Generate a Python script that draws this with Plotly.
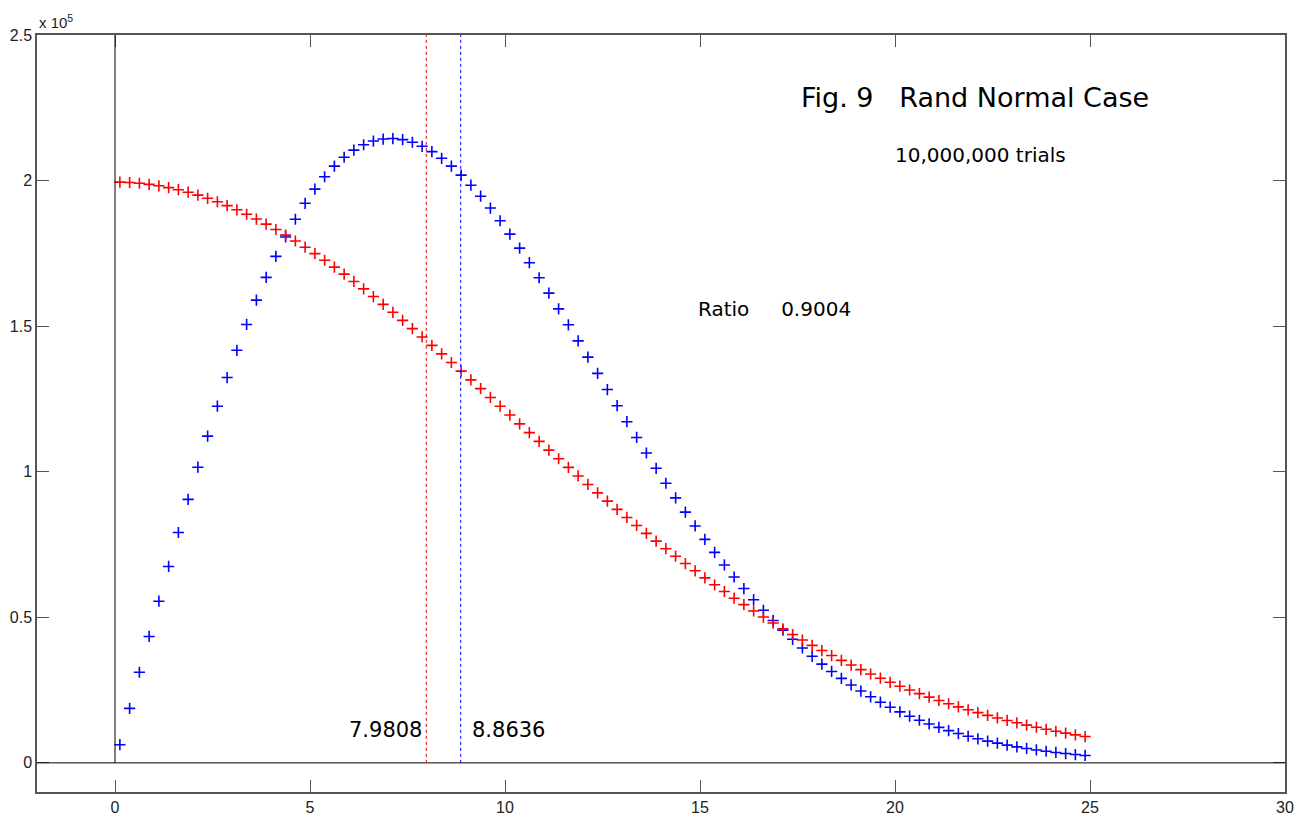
import plotly.graph_objects as go

# bin centres (x) shared by both series
x_centers = [0.125, 0.375, 0.625, 0.875, 1.125, 1.375, 1.625, 1.875, 2.125, 2.375,
             2.625, 2.875, 3.125, 3.375, 3.625, 3.875, 4.125, 4.375, 4.625, 4.875,
             5.125, 5.375, 5.625, 5.875, 6.125, 6.375, 6.625, 6.875, 7.125, 7.375,
             7.625, 7.875, 8.125, 8.375, 8.625, 8.875, 9.125, 9.375, 9.625, 9.875,
             10.125, 10.375, 10.625, 10.875, 11.125, 11.375, 11.625, 11.875, 12.125, 12.375,
             12.625, 12.875, 13.125, 13.375, 13.625, 13.875, 14.125, 14.375, 14.625, 14.875,
             15.125, 15.375, 15.625, 15.875, 16.125, 16.375, 16.625, 16.875, 17.125, 17.375,
             17.625, 17.875, 18.125, 18.375, 18.625, 18.875, 19.125, 19.375, 19.625, 19.875,
             20.125, 20.375, 20.625, 20.875, 21.125, 21.375, 21.625, 21.875, 22.125, 22.375,
             22.625, 22.875, 23.125, 23.375, 23.625, 23.875, 24.125, 24.375, 24.625, 24.875]

blue_counts = [6250, 18720, 31130, 43420, 55540, 67460, 79130, 90510, 101560, 112240,
               122510, 132350, 141710, 150580, 158930, 166740, 173980, 180640, 186720, 192190,
               197060, 201320, 204960, 208010, 210450, 212300, 213570, 214270, 214430, 214050,
               213160, 211780, 209940, 207650, 204950, 201860, 198420, 194640, 190560, 186200,
               181610, 176790, 171790, 166630, 161340, 155940, 150470, 144930, 139360, 133790,
               128220, 122680, 117190, 111770, 106430, 101180, 96040, 91010, 86120, 81370,
               76760, 72300, 67990, 63850, 59870, 56050, 52400, 48920, 45600, 42440,
               39450, 36610, 33930, 31400, 29010, 26770, 24670, 22700, 20850, 19130,
               17530, 16040, 14650, 13370, 12180, 11080, 10070, 9140, 8280, 7490,
               6770, 6110, 5500, 4950, 4450, 3990, 3580, 3200, 2860, 2560]

red_counts = [199460, 199330, 199080, 198710, 198210, 197590, 196860, 196000, 195020, 193920,
              192720, 191400, 189970, 188430, 186790, 185040, 183200, 181270, 179240, 177120,
              174920, 172640, 170290, 167860, 165360, 162790, 160170, 157490, 154760, 151980,
              149150, 146290, 143390, 140470, 137510, 134540, 131540, 128540, 125520, 122500,
              119470, 116450, 113430, 110420, 107430, 104450, 101490, 98550, 95640, 92750,
              89900, 87080, 84300, 81550, 78840, 76180, 73560, 70980, 68460, 65980,
              63550, 61170, 58850, 56570, 54360, 52190, 50080, 48030, 46030, 44090,
              42200, 40370, 38590, 36870, 35210, 33600, 32040, 30530, 29080, 27680,
              26330, 25030, 23780, 22580, 21420, 20310, 19250, 18230, 17260, 16320,
              15430, 14580, 13760, 12980, 12240, 11540, 10860, 10230, 9620, 9040]

red_mean = 7.9808
blue_mean = 8.8636
ratio = 0.9004

x_tickvals = [0, 5, 10, 15, 20, 25, 30]
y_tickvals = [0, 50000, 100000, 150000, 200000, 250000]
y_ticktext = ["0", "0.5", "1", "1.5", "2", "2.5"]
x_range = [-2, 30]
y_range = [-10000, 250000]

fig = go.Figure()

fig.add_trace(go.Scatter(
    x=x_centers, y=blue_counts, mode="markers",
    marker=dict(symbol="cross-thin-open", size=8, color="#0000ff",
                line=dict(color="#0000ff", width=1.6)),
    showlegend=False, hoverinfo="skip"))
fig.add_trace(go.Scatter(
    x=x_centers, y=red_counts, mode="markers",
    marker=dict(symbol="cross-thin-open", size=8, color="#ff0000",
                line=dict(color="#ff0000", width=1.6)),
    showlegend=False, hoverinfo="skip"))

# reference lines
fig.add_shape(type="line", xref="x", yref="y", x0=x_range[0], x1=x_range[1], y0=0, y1=0,
              line=dict(color="black", width=1))
fig.add_shape(type="line", xref="x", yref="y", x0=0, x1=0, y0=0, y1=y_range[1],
              line=dict(color="black", width=1))
fig.add_shape(type="line", xref="x", yref="y", x0=red_mean, x1=red_mean, y0=0, y1=y_range[1],
              line=dict(color="#e00000", width=1, dash="dot"))
fig.add_shape(type="line", xref="x", yref="y", x0=blue_mean, x1=blue_mean, y0=0, y1=y_range[1],
              line=dict(color="#0000ff", width=1, dash="dot"))

txt_font = "Tahoma, DejaVu Sans, sans-serif"
annotations = [
    dict(x=17.55, y=228500, xref="x", yref="y", text="Fig. 9\u00a0\u00a0\u00a0Rand Normal Case",
         showarrow=False, xanchor="left", yanchor="middle",
         font=dict(family=txt_font, size=27, color="black")),
    dict(x=19.95, y=208800, xref="x", yref="y", text="10,000,000 trials",
         showarrow=False, xanchor="left", yanchor="middle",
         font=dict(family="DejaVu Sans, sans-serif", size=20, color="black")),
    dict(x=14.9, y=155900, xref="x", yref="y",
         text="Ratio\u00a0\u00a0\u00a0\u00a0\u00a0" + f"{ratio:.4f}",
         showarrow=False, xanchor="left", yanchor="middle",
         font=dict(family=txt_font, size=20, color="black")),
    dict(x=red_mean - 0.07, y=11300, xref="x", yref="y", text=f"{red_mean:.4f}",
         showarrow=False, xanchor="right", yanchor="middle",
         font=dict(family=txt_font, size=21, color="black")),
    dict(x=blue_mean + 0.23, y=11300, xref="x", yref="y", text=f"{blue_mean:.4f}",
         showarrow=False, xanchor="left", yanchor="middle",
         font=dict(family=txt_font, size=21, color="black")),
    dict(x=0, y=1, xref="paper", yref="paper", text="x 10<sup>5</sup>",
         showarrow=False, xanchor="left", yanchor="bottom", yshift=2,
         font=dict(family="Liberation Sans, Arial, sans-serif", size=15, color="#222222")),
]

fig.update_layout(
    width=1309, height=817,
    margin=dict(l=37, r=24, t=35, b=25),
    paper_bgcolor="white", plot_bgcolor="white",
    annotations=annotations,
    font=dict(family="Liberation Sans, Arial, sans-serif", size=16, color="#222222"),
)
fig.update_xaxes(range=x_range, tickvals=x_tickvals, ticks="inside", ticklen=12,
                 tickcolor="#555555", showline=True, linecolor="#555555", linewidth=1.5,
                 mirror="ticks", showgrid=False, zeroline=False, automargin=False,
                 tickfont=dict(size=16, color="#222222"))
fig.update_yaxes(range=y_range, tickvals=y_tickvals, ticktext=y_ticktext, ticks="inside",
                 ticklen=12, tickcolor="#555555", showline=True, linecolor="#555555",
                 linewidth=1.5, mirror="ticks", showgrid=False, zeroline=False, automargin=False,
                 tickfont=dict(size=16, color="#222222"))

fig.write_html("out.html")
